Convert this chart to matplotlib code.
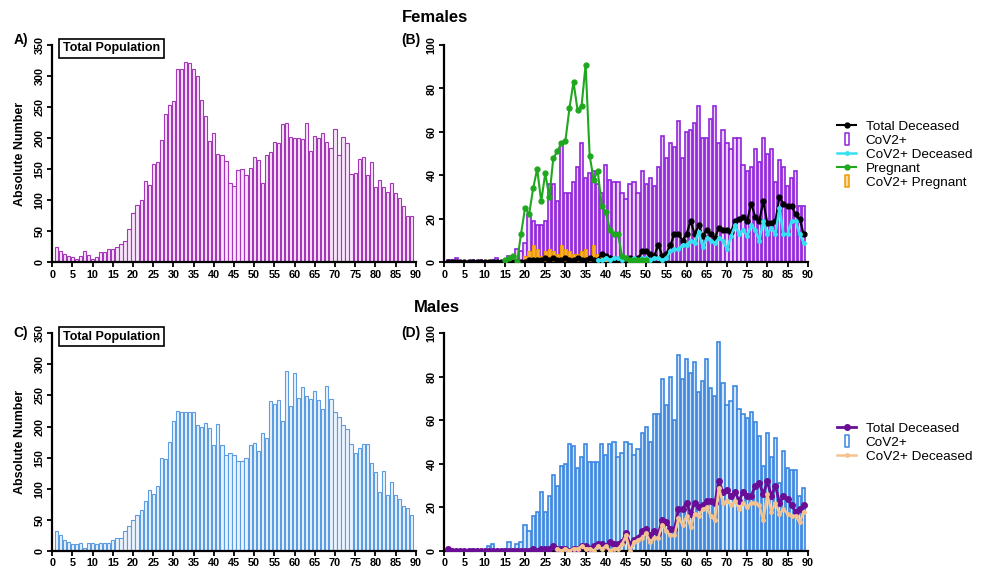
import matplotlib.pyplot as plt
import numpy as np
from matplotlib.lines import Line2D
from matplotlib.path import Path

plt.switch_backend('Agg')
plt.rcParams['font.family'] = ['Liberation Sans', 'DejaVu Sans']

nan = np.nan
ages = np.arange(1, 90)

# Females, total population (A)
fem_total = [25, 19, 13, 10, 8, 6, 10, 18, 11, 5,
             9, 16, 16, 21, 21, 25, 30, 34, 54, 79,
             92, 100, 131, 125, 159, 161, 197, 239, 253, 260,
             312, 311, 323, 321, 311, 300, 262, 236, 196, 208,
             175, 173, 163, 127, 123, 149, 151, 140, 152, 170,
             165, 128, 173, 177, 194, 192, 222, 225, 202, 201,
             201, 198, 225, 179, 203, 200, 208, 193, 184, 214,
             173, 202, 192, 142, 144, 166, 170, 140, 162, 122,
             132, 121, 114, 127, 112, 103, 91, 75, 74]

# Females (B)
fem_cov = [1, 1, 2, 0, 0, 0, 1, 0, 1, 0,
           0, 1, 2, 0, 0, 3, 2, 6, 5, 9,
           22, 19, 17, 17, 19, 36, 36, 28, 54, 32,
           32, 37, 44, 55, 39, 41, 42, 36, 32, 45,
           38, 37, 37, 32, 29, 36, 37, 32, 42, 36,
           39, 35, 44, 58, 48, 55, 53, 65, 48, 60,
           61, 64, 72, 57, 57, 66, 72, 55, 61, 55,
           52, 57, 57, 45, 42, 44, 52, 46, 57, 50,
           52, 37, 47, 44, 35, 39, 42, 26, 26]
fem_dec = [0, 0, 0, 0, 0, 0, 0, 0, 0, 0,
           0, 0, 0, 0, 0, 0, 0, 0, 0, 0,
           1, 1, 1, 1, 2, 1, 2, 1, 1, 2,
           1, 1, 2, 1, 1, 2, 1, 1, 4, 3,
           2, 1, 1, 1, 1, 2, 1, 2, 5, 5,
           4, 3, 8, 3, 4, 8, 13, 13, 10, 13,
           19, 13, 17, 12, 15, 13, 11, 16, 15, 15,
           14, 19, 20, 21, 19, 27, 21, 19, 28, 18,
           18, 19, 30, 27, 26, 26, 22, 20, 13]
fem_cov_dec = [nan] * 37 + [
           1, 1, 2,
           1, 2, 2, 1, 2, 1, 2, 1, 2, 2,
           1, 2, 2, 1, 2, 5, 6, 6, 8, 8,
           10, 9, 14, 7, 11, 10, 9, 11, 10, 6,
           12, 17, 13, 15, 12, 17, 15, 10, 19, 13,
           16, 13, 25, 13, 13, 19, 19, 13, 9]
fem_preg = [nan] * 14 + [
           1, 2, 3, 0, 13, 25,
           22, 34, 43, 28, 41, 30, 48, 51, 55, 56,
           71, 83, 70, 72, 91, 49, 38, 42, 26, 23,
           15, 13, 13, 3, 2, 1, 1, 1, 1, 1] + [nan] * 39
fem_cov_preg = [0] * 18 + [
           1, 3,
           5, 8, 6, 3, 5, 6, 5, 4, 8, 6,
           5, 4, 4, 5, 6, 2, 8, 4, 3, 1] + [0] * 49

# Males, total population (C)
male_total = [32, 25, 17, 14, 11, 11, 12, 5, 13, 12,
              10, 12, 12, 12, 17, 20, 20, 32, 39, 49,
              57, 65, 80, 97, 92, 105, 149, 147, 175, 209,
              225, 223, 223, 224, 224, 202, 200, 206, 197, 170,
              204, 171, 154, 158, 154, 145, 144, 150, 170, 174,
              161, 190, 181, 241, 237, 243, 209, 290, 233, 287,
              246, 264, 249, 244, 258, 243, 228, 265, 244, 224,
              215, 202, 196, 172, 158, 165, 172, 172, 141, 126,
              95, 129, 90, 110, 90, 84, 72, 68, 57]

# Males (D)
male_cov = [0, 0, 0, 0, 0, 0, 1, 0, 0, 0,
            2, 3, 0, 0, 1, 4, 1, 3, 4, 12,
            9, 16, 18, 27, 18, 25, 35, 30, 39, 40,
            49, 48, 38, 43, 49, 41, 41, 41, 49, 44,
            49, 50, 43, 45, 50, 49, 44, 47, 54, 57,
            50, 63, 63, 79, 67, 80, 60, 90, 79, 88,
            82, 87, 73, 78, 88, 75, 71, 96, 77, 67,
            69, 76, 65, 63, 61, 64, 59, 53, 39, 54,
            43, 52, 31, 46, 38, 37, 37, 25, 29]
male_dec = [1, 0, 0, 0, 0, 0, 0, 0, 0, 0,
            0, 0, 0, 0, 0, 0, 0, 0, 0, 0,
            0, 1, 0, 1, 1, 1, 2, 1, 1, 1,
            0, 1, 1, 2, 2, 1, 2, 3, 3, 2,
            4, 3, 3, 4, 8, 3, 5, 6, 9, 10,
            7, 9, 8, 14, 13, 10, 10, 19, 19, 22,
            17, 22, 20, 21, 23, 23, 22, 32, 27, 28,
            25, 27, 23, 27, 25, 25, 30, 31, 26, 32,
            25, 30, 22, 25, 24, 21, 18, 19, 21]
male_cov_dec = [nan] * 27 + [
            1, 0, 1,
            0, 1, 1, 2, 1, 1, 0, 2, 1, 2,
            0, 1, 1, 3, 7, 0, 4, 5, 6, 8,
            4, 6, 6, 12, 9, 7, 7, 15, 12, 16,
            11, 17, 16, 19, 20, 16, 14, 29, 22, 23,
            21, 23, 19, 22, 20, 22, 22, 21, 14, 26,
            18, 22, 17, 19, 17, 16, 16, 13, 18]

x_ticks = np.arange(0, 91, 5)

fig = plt.figure(figsize=(9.84, 5.71), dpi=100)
axw = 363.4 / 984
axh = 217.3 / 571
ax_a = fig.add_axes([52.3 / 984, 1 - 262.3 / 571, axw, axh])
ax_b = fig.add_axes([444.3 / 984, 1 - 262.3 / 571, axw, axh])
ax_c = fig.add_axes([52.3 / 984, 1 - 550.7 / 571, axw, axh])
ax_d = fig.add_axes([444.3 / 984, 1 - 550.7 / 571, axw, axh])


def style(ax, ymax, ystep):
    ax.set_xlim(0, 90)
    ax.set_ylim(0, ymax)
    ax.set_xticks(x_ticks)
    ax.set_yticks(np.arange(0, ymax + 1, ystep))
    for s in ['top', 'right']:
        ax.spines[s].set_visible(False)
    for s in ['left', 'bottom']:
        ax.spines[s].set_linewidth(1.6)
    ax.tick_params(width=1.3, length=3.5, labelsize=7.8, pad=2)
    for lbl in ax.get_xticklabels():
        lbl.set_fontweight('bold')
    for lbl in ax.get_yticklabels():
        lbl.set_fontweight('bold')
        lbl.set_rotation(90)
        lbl.set_va('center')


bw = 0.8
purple_a = '#a636b8'
purple_b = '#9124dc'
blue_c = '#5b9de2'
blue_d = '#3c87e0'

# A
ax_a.bar(ages, fem_total, width=bw, facecolor='#f7e6f9', edgecolor=purple_a, linewidth=0.8)
style(ax_a, 350, 50)
ax_a.set_ylabel('Absolute Number', fontsize=9, fontweight='bold', labelpad=6)
ax_a.text(0.03, 0.985, 'Total Population', transform=ax_a.transAxes, fontsize=9,
          fontweight='bold', va='center', ha='left',
          bbox=dict(boxstyle='square,pad=0.3', fc='white', ec='black', lw=1.2))

# B
ax_b.bar(ages, fem_cov, width=bw, facecolor='#ead2fb', edgecolor=purple_b, linewidth=1.2, zorder=2)
ax_b.bar(ages, fem_cov_preg, width=bw, facecolor='#f7b13a', edgecolor='#f09a00', linewidth=0.8, zorder=3)
ax_b.plot(ages, fem_dec, color='black', lw=1.5, marker='o', ms=3.5, zorder=4)
ax_b.plot(ages, fem_cov_dec, color='#34e2f2', lw=1.8, marker='o', ms=2.5, zorder=5)
ax_b.plot(ages, fem_preg, color='#1fa81f', lw=1.5, marker='o', ms=3.5, zorder=6)
style(ax_b, 100, 20)

# C
ax_c.bar(ages, male_total, width=bw, facecolor='#ebf3fc', edgecolor=blue_c, linewidth=0.8)
style(ax_c, 350, 50)
ax_c.set_ylabel('Absolute Number', fontsize=9, fontweight='bold', labelpad=6)
ax_c.text(0.03, 0.985, 'Total Population', transform=ax_c.transAxes, fontsize=9,
          fontweight='bold', va='center', ha='left',
          bbox=dict(boxstyle='square,pad=0.3', fc='white', ec='black', lw=1.2))

# D
ax_d.bar(ages, male_cov, width=bw, facecolor='#d3e6fa', edgecolor=blue_d, linewidth=1.2, zorder=2)
ax_d.plot(ages, male_dec, color='#6a0e96', lw=2.0, marker='o', ms=4, zorder=4)
ax_d.plot(ages, male_cov_dec, color='#f4c38e', lw=1.8, marker='o', ms=2.5, zorder=5)
style(ax_d, 100, 20)

# titles and panel letters
fig.text(0.442, 0.970, 'Females', ha='center', va='center', fontsize=12, fontweight='bold')
fig.text(0.444, 0.462, 'Males', ha='center', va='center', fontsize=12, fontweight='bold')
fig.text(0.014, 0.930, 'A)', ha='left', va='center', fontsize=10, fontweight='bold')
fig.text(0.408, 0.930, '(B)', ha='left', va='center', fontsize=10, fontweight='bold')
fig.text(0.014, 0.417, 'C)', ha='left', va='center', fontsize=10, fontweight='bold')
fig.text(0.408, 0.417, '(D)', ha='left', va='center', fontsize=10, fontweight='bold')

# legends
rect = Path([(-0.4, -1), (0.4, -1), (0.4, 1), (-0.4, 1), (-0.4, -1)],
            [Path.MOVETO, Path.LINETO, Path.LINETO, Path.LINETO, Path.CLOSEPOLY])


def bar_handle(ec, fc):
    return Line2D([], [], linestyle='none', marker=rect, ms=8, mec=ec, mfc=fc, mew=1.1)


hb = [Line2D([], [], color='black', lw=1.5, marker='o', ms=3.5),
      bar_handle(purple_b, 'white'),
      Line2D([], [], color='#34e2f2', lw=1.8, marker='o', ms=2.5),
      Line2D([], [], color='#1fa81f', lw=1.5, marker='o', ms=3.5),
      bar_handle('#f09a00', '#fbd9a0')]
lb = ['Total Deceased', 'CoV2+', 'CoV2+ Deceased', 'Pregnant', 'CoV2+ Pregnant']
fig.legend(hb, lb, loc='upper left', bbox_to_anchor=(0.851, 0.789), frameon=False,
           fontsize=9.7, handlelength=1.4, handletextpad=0.7, labelspacing=0.12,
           borderaxespad=0, borderpad=0)

hd = [Line2D([], [], color='#6a0e96', lw=2.0, marker='o', ms=4),
      bar_handle(blue_d, 'white'),
      Line2D([], [], color='#f4c38e', lw=1.8, marker='o', ms=2.5)]
ld = ['Total Deceased', 'CoV2+', 'CoV2+ Deceased']
fig.legend(hd, ld, loc='upper left', bbox_to_anchor=(0.851, 0.260), frameon=False,
           fontsize=9.7, handlelength=1.4, handletextpad=0.7, labelspacing=0.12,
           borderaxespad=0, borderpad=0)

fig.savefig('out.png', dpi=100)
